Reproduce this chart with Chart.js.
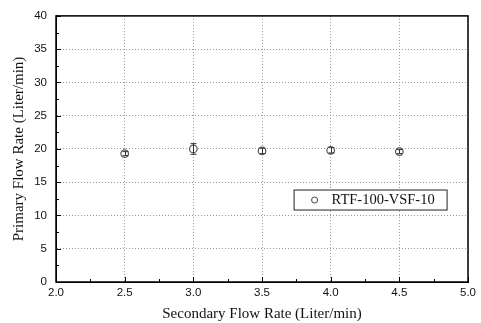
<!DOCTYPE html>
<html>
<head>
<meta charset="utf-8">
<script src="https://cdn.jsdelivr.net/npm/chart.js@4/dist/chart.umd.min.js"></script>
<style>
  html, body { margin: 0; padding: 0; background: #fff; }
  #wrap { width: 481px; height: 323px; }
</style>
</head>
<body>
<div id="wrap"><canvas id="flowChart" width="481" height="323"></canvas></div>
<script>
// Données
const secondaryFlow = [2.5, 3.0, 3.5, 4.0, 4.5];
const primaryFlow = [19.3, 20.0, 19.7, 19.8, 19.6];
const primaryErr = [0.3, 0.8, 0.4, 0.4, 0.3];
const seriesLabel = 'RTF-100-VSF-10';

const xMinorTicks = [2.25, 2.75, 3.25, 3.75, 4.25, 4.75];
const yMinorTicks = [2.5, 7.5, 12.5, 17.5, 22.5, 27.5, 32.5, 37.5];

const serif = "'Liberation Serif', 'Times New Roman', serif";
const sans = "'Liberation Sans', Arial, sans-serif";

// Barres d'erreur, cadre, graduations internes et légende
const decorPlugin = {
    id: 'decor',
    afterDatasetsDraw(chart) {
        const ctx = chart.ctx;
        const xs = chart.scales.x;
        const ys = chart.scales.y;
        const area = chart.chartArea;

        ctx.save();
        ctx.strokeStyle = '#333';
        ctx.lineWidth = 1;
        secondaryFlow.forEach((x, i) => {
            const px = Math.round(xs.getPixelForValue(x)) + 0.5;
            const top = ys.getPixelForValue(primaryFlow[i] + primaryErr[i]);
            const bot = ys.getPixelForValue(primaryFlow[i] - primaryErr[i]);
            ctx.beginPath();
            ctx.moveTo(px, top); ctx.lineTo(px, bot);
            ctx.moveTo(px - 3, top); ctx.lineTo(px + 3, top);
            ctx.moveTo(px - 3, bot); ctx.lineTo(px + 3, bot);
            ctx.stroke();
        });

        // graduations vers l'intérieur
        ctx.strokeStyle = '#000';
        ctx.beginPath();
        xs.ticks.forEach(t => {
            const px = Math.round(xs.getPixelForValue(t.value)) + 0.5;
            ctx.moveTo(px, area.bottom); ctx.lineTo(px, area.bottom - 5);
        });
        xMinorTicks.forEach(v => {
            const px = Math.round(xs.getPixelForValue(v)) + 0.5;
            ctx.moveTo(px, area.bottom); ctx.lineTo(px, area.bottom - 3);
        });
        ys.ticks.forEach(t => {
            const py = Math.round(ys.getPixelForValue(t.value)) + 0.5;
            ctx.moveTo(area.left, py); ctx.lineTo(area.left + 5, py);
        });
        yMinorTicks.forEach(v => {
            const py = Math.round(ys.getPixelForValue(v)) + 0.5;
            ctx.moveTo(area.left, py); ctx.lineTo(area.left + 3, py);
        });
        ctx.stroke();

        // cadre
        ctx.lineWidth = 1.5;
        ctx.strokeRect(area.left, area.top, area.right - area.left, area.bottom - area.top);

        // légende
        const lx = xs.getPixelForValue(3.73);
        const ly = ys.getPixelForValue(13.9);
        const lw = 153, lh = 20;
        ctx.fillStyle = '#fff';
        ctx.fillRect(lx, ly, lw, lh);
        ctx.lineWidth = 1;
        ctx.strokeStyle = '#222';
        ctx.strokeRect(lx + 0.5, ly + 0.5, lw, lh);
        ctx.beginPath();
        ctx.arc(lx + 21, ly + lh / 2 + 0.5, 3, 0, Math.PI * 2);
        ctx.strokeStyle = '#444';
        ctx.stroke();
        ctx.fillStyle = '#111';
        ctx.font = '14.5px ' + serif;
        ctx.textBaseline = 'middle';
        ctx.fillText(seriesLabel, lx + 38, ly + lh / 2 + 1);
        ctx.restore();
    }
};

new Chart(document.getElementById('flowChart'), {
    type: 'scatter',
    data: {
        datasets: [{
            label: seriesLabel,
            data: secondaryFlow.map((x, i) => ({ x: x, y: primaryFlow[i] })),
            pointStyle: 'circle',
            pointRadius: 3.8,
            borderColor: '#555',
            backgroundColor: '#fff',
            borderWidth: 1.2
        }]
    },
    options: {
        responsive: false,
        animation: false,
        layout: { padding: { top: 9, right: 13, left: 0, bottom: 0 } },
        plugins: {
            legend: { display: false },
            tooltip: { enabled: false }
        },
        scales: {
            x: {
                type: 'linear',
                min: 2.0,
                max: 5.0,
                afterFit(scale) { scale.height = 41; },
                ticks: {
                    stepSize: 0.5,
                    padding: 4,
                    color: '#111',
                    font: { family: sans, size: 11.5 },
                    callback: v => v.toFixed(1)
                },
                grid: {
                    drawTicks: false,
                    color: '#999'
                },
                border: { display: true, color: '#000', dash: [1, 2] },
                title: {
                    display: true,
                    text: 'Secondary Flow Rate (Liter/min)',
                    color: '#111',
                    font: { family: serif, size: 15 },
                    padding: { top: 4, bottom: 0 }
                }
            },
            y: {
                type: 'linear',
                min: 0,
                max: 40,
                afterFit(scale) { scale.width = 56; },
                ticks: {
                    stepSize: 5,
                    padding: 9,
                    color: '#111',
                    font: { family: sans, size: 11.5 }
                },
                grid: {
                    drawTicks: false,
                    color: '#999'
                },
                border: { display: true, color: '#000', dash: [1, 2] },
                title: {
                    display: true,
                    text: 'Primary Flow Rate (Liter/min)',
                    color: '#111',
                    font: { family: serif, size: 15 },
                    padding: { top: 10, bottom: 4 }
                }
            }
        }
    },
    plugins: [decorPlugin]
});
</script>
</body>
</html>
